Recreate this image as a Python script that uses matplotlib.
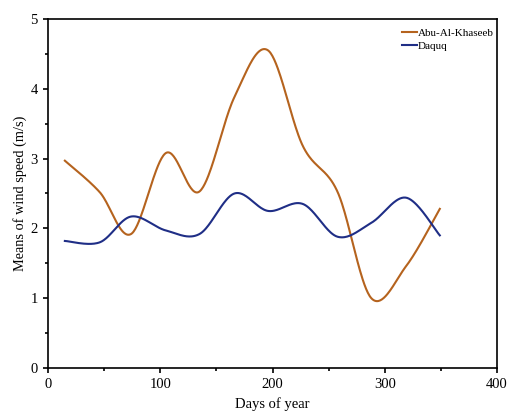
import numpy as np
import matplotlib
matplotlib.use("Agg")
import matplotlib.pyplot as plt
from matplotlib.ticker import MultipleLocator

days = [15, 46, 74, 105, 135, 166, 196, 227, 258, 288, 319, 349]
abu_al_khaseeb = [2.97, 2.52, 1.92, 3.08, 2.53, 3.88, 4.55, 3.18, 2.52, 1.00, 1.46, 2.28]
daquq = [1.82, 1.80, 2.17, 1.97, 1.92, 2.50, 2.25, 2.35, 1.88, 2.08, 2.44, 1.90]

plt.rcParams['font.family'] = ['Liberation Serif', 'DejaVu Serif']


def smooth(x, y, n=40):
    x = np.asarray(x, float)
    y = np.asarray(y, float)
    px = np.concatenate([[x[0]], x, [x[-1]]])
    py = np.concatenate([[y[0]], y, [y[-1]]])
    xs, ys = [], []
    t = np.linspace(0, 1, n)
    for i in range(1, len(px) - 2):
        p0 = np.array([px[i], py[i]])
        p3 = np.array([px[i + 1], py[i + 1]])
        c1 = p0 + (np.array([px[i + 1], py[i + 1]]) - np.array([px[i - 1], py[i - 1]])) / 6
        c2 = p3 - (np.array([px[i + 2], py[i + 2]]) - np.array([px[i], py[i]])) / 6
        b = ((1 - t) ** 3)[:, None] * p0 + (3 * (1 - t) ** 2 * t)[:, None] * c1 \
            + (3 * (1 - t) * t ** 2)[:, None] * c2 + (t ** 3)[:, None] * p3
        xs.append(b[:, 0])
        ys.append(b[:, 1])
    return np.concatenate(xs), np.concatenate(ys)


fig = plt.figure(figsize=(5.26, 4.2), dpi=100)
ax = fig.add_axes([0.0913, 0.1238, 0.8537, 0.831])

sx, sy = smooth(days, abu_al_khaseeb)
ax.plot(sx, sy, color='#B5631E', lw=1.5, label='Abu-Al-Khaseeb')
sx, sy = smooth(days, daquq)
ax.plot(sx, sy, color='#1F2E86', lw=1.5, label='Daquq')

ax.set_xlim(0, 400)
ax.set_ylim(0, 5)
ax.xaxis.set_major_locator(MultipleLocator(100))
ax.xaxis.set_minor_locator(MultipleLocator(50))
ax.yaxis.set_major_locator(MultipleLocator(1))
ax.yaxis.set_minor_locator(MultipleLocator(0.5))
ax.tick_params(which='major', direction='out', length=3.5, width=1.2, labelsize=10.5,
               colors='black', pad=4)
ax.tick_params(which='minor', direction='out', length=2.5, width=1.2)
for s in ax.spines.values():
    s.set_linewidth(1.2)

ax.set_xlabel('Days of year', fontsize=10.5, labelpad=4)
ax.set_ylabel('Means of wind speed (m/s)', fontsize=10.3, labelpad=2)

ax.legend(loc='upper right', bbox_to_anchor=(1.007, 0.994), frameon=False, fontsize=8,
          handlelength=1.3, handletextpad=0.1, borderaxespad=0.2, labelspacing=0.35)

fig.savefig('out.png', dpi=100)
